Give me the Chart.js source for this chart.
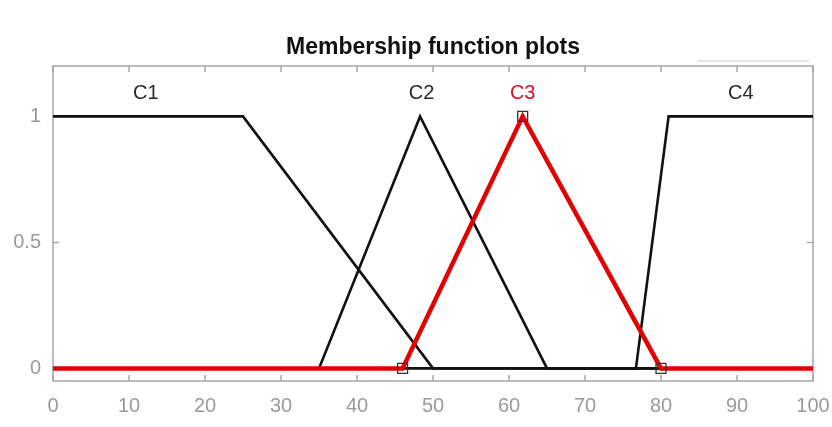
<!DOCTYPE html>
<html>
<head>
<meta charset="utf-8">
<script src="https://cdn.jsdelivr.net/npm/chart.js@4.4.0/dist/chart.umd.min.js"></script>
<style>
  html, body { margin: 0; padding: 0; background: #fff; }
  #wrap { width: 832px; height: 427px; }
</style>
</head>
<body>
<div id="wrap"><canvas id="myChart" width="832" height="427"></canvas></div>
<script>
'use strict';

// membership function break points
var c1X = [0, 25, 50, 100];
var c1Y = [1, 1, 0, 0];
var c2X = [0, 35, 48.3, 65, 100];
var c2Y = [0, 0, 1, 0, 0];
var c3X = [0, 46, 61.8, 80, 100];
var c3Y = [0, 0, 1, 0, 0];
var c4X = [0, 76.7, 81, 100];
var c4Y = [0, 0, 1, 1];

// labels above each curve
var mfNames = ['C1', 'C2', 'C3', 'C4'];
var mfLabelX = [12.2, 48.5, 61.8, 90.5];
var mfLabelY = 1.09;

// tick labels
var xTicks = [0, 10, 20, 30, 40, 50, 60, 70, 80, 90, 100];
var yTicks = [0, 0.5, 1];

var chartTitle = 'Membership function plots';

var axisGrey = '#a6a6a6';
var labelGrey = '#9a9a9a';
var fontFam = '"Liberation Sans", Arial, sans-serif';

function toPoints(xs, ys) {
  var pts = [];
  for (var i = 0; i < xs.length; i++) {
    pts.push({ x: xs[i], y: ys[i] });
  }
  return pts;
}

// box with inward ticks under the curves, title and names on top
var boxPlugin = {
  id: 'boxPlugin',
  beforeDatasetsDraw: function (chart) {
    var ctx = chart.ctx;
    var a = chart.chartArea;
    var xs = chart.scales.x;
    var ys = chart.scales.y;
    ctx.save();
    ctx.strokeStyle = axisGrey;
    ctx.lineWidth = 1.5;
    ctx.strokeRect(a.left, a.top, a.right - a.left, a.bottom - a.top);
    ctx.beginPath();
    xTicks.forEach(function (v) {
      var px = xs.getPixelForValue(v);
      ctx.moveTo(px, a.bottom); ctx.lineTo(px, a.bottom - 6);
      ctx.moveTo(px, a.top); ctx.lineTo(px, a.top + 6);
    });
    yTicks.forEach(function (v) {
      var py = ys.getPixelForValue(v);
      ctx.moveTo(a.left, py); ctx.lineTo(a.left + 6, py);
      ctx.moveTo(a.right, py); ctx.lineTo(a.right - 6, py);
    });
    ctx.stroke();

    // faint line above the box on the right
    ctx.strokeStyle = '#c8c8c8';
    ctx.lineWidth = 1;
    ctx.beginPath();
    ctx.moveTo(xs.getPixelForValue(84.8), a.top - 5);
    ctx.lineTo(xs.getPixelForValue(99.5), a.top - 5);
    ctx.stroke();
    ctx.restore();
  },
  afterDatasetsDraw: function (chart) {
    var ctx = chart.ctx;
    var a = chart.chartArea;
    var xs = chart.scales.x;
    var ys = chart.scales.y;
    ctx.save();
    ctx.textAlign = 'center';
    ctx.textBaseline = 'middle';

    ctx.font = 'bold 23px ' + fontFam;
    ctx.fillStyle = '#111';
    ctx.fillText(chartTitle, (a.left + a.right) / 2, a.top - 18);

    ctx.font = '20px ' + fontFam;
    for (var i = 0; i < mfNames.length; i++) {
      ctx.fillStyle = mfNames[i] === 'C3' ? '#d8102a' : '#2a2a2a';
      ctx.fillText(mfNames[i], xs.getPixelForValue(mfLabelX[i]), ys.getPixelForValue(mfLabelY));
    }
    ctx.restore();
  }
};

var ctx = document.getElementById('myChart').getContext('2d');
var chart = new Chart(ctx, {
  type: 'line',
  data: {
    datasets: [
      {
        label: 'C3',
        data: toPoints(c3X, c3Y),
        borderColor: '#e30000',
        borderWidth: 4.5,
        pointStyle: 'rect',
        pointRadius: [0, 7, 7, 7, 0],
        pointBorderColor: '#333',
        pointBorderWidth: 1.3,
        pointBackgroundColor: 'rgba(0,0,0,0)',
        clip: false,
        order: 0
      },
      {
        label: 'C1',
        data: toPoints(c1X, c1Y),
        borderColor: '#111',
        borderWidth: 2.6,
        pointRadius: 0,
        order: 1
      },
      {
        label: 'C2',
        data: toPoints(c2X, c2Y),
        borderColor: '#111',
        borderWidth: 2.6,
        pointRadius: 0,
        order: 1
      },
      {
        label: 'C4',
        data: toPoints(c4X, c4Y),
        borderColor: '#111',
        borderWidth: 2.6,
        pointRadius: 0,
        order: 1
      }
    ]
  },
  options: {
    responsive: false,
    animation: false,
    layout: { padding: { top: 66, right: 19, left: 0, bottom: 0 } },
    plugins: {
      legend: { display: false },
      tooltip: { enabled: false },
      title: { display: false }
    },
    scales: {
      x: {
        type: 'linear',
        min: 0,
        max: 100,
        afterBuildTicks: function (scale) {
          scale.ticks = xTicks.map(function (v) { return { value: v }; });
        },
        afterFit: function (scale) {
          scale.height = 46;
          scale.paddingRight = 0;
          scale.paddingLeft = 0;
        },
        grid: { display: false, drawTicks: false },
        border: { display: false },
        ticks: {
          color: labelGrey,
          padding: 13,
          maxRotation: 0,
          font: { family: fontFam, size: 20 }
        }
      },
      y: {
        type: 'linear',
        min: -0.05,
        max: 1.2,
        afterBuildTicks: function (scale) {
          scale.ticks = yTicks.map(function (v) { return { value: v }; });
        },
        afterFit: function (scale) {
          scale.width = 53;
          scale.paddingTop = 0;
          scale.paddingBottom = 0;
        },
        grid: { display: false, drawTicks: false },
        border: { display: false },
        ticks: {
          color: labelGrey,
          padding: 12,
          font: { family: fontFam, size: 20 },
          callback: function (v) { return String(v); }
        }
      }
    }
  },
  plugins: [boxPlugin]
});
</script>
</body>
</html>
